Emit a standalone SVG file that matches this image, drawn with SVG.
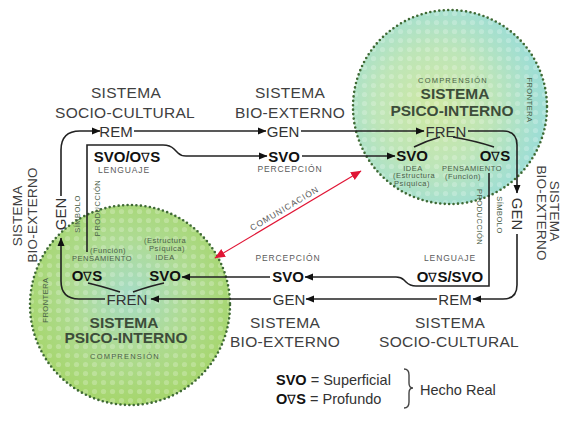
<svg xmlns="http://www.w3.org/2000/svg" width="566" height="421" viewBox="0 0 566 421">
<style>
.t{font-family:"Liberation Sans",Arial,sans-serif;text-anchor:middle;fill:#404040}
.big{font-size:15.5px;letter-spacing:0.3px}
.side{font-size:13.5px;letter-spacing:0.2px}
.nd{font-size:15px;fill:#333}
.b{font-size:15px;font-weight:bold;fill:#111}
.s{font-size:8.5px;letter-spacing:0.9px;fill:#5a5a5a}
.cs{font-size:7.5px;letter-spacing:0.5px;fill:#4a6048}
.ct{font-size:15.5px;font-weight:bold;fill:#3d4d3a}
.ln{fill:none;stroke:#222;stroke-width:1.6}
.rim{fill:none;stroke:#3f6a35;stroke-width:2.6;stroke-dasharray:0 4.5;stroke-linecap:round}
.lg{font-family:"Liberation Sans",Arial,sans-serif;font-size:14.5px;fill:#333}
</style>
<defs>
<marker id="ah" markerUnits="userSpaceOnUse" markerWidth="9" markerHeight="8" refX="8" refY="4" orient="auto"><path d="M0,0.5 L8.5,4 L0,7.5 z" fill="#111"/></marker>
<marker id="rh" markerUnits="userSpaceOnUse" markerWidth="11" markerHeight="10" refX="10" refY="5" orient="auto-start-reverse"><path d="M0,0.5 L10.5,5 L0,9.5 z" fill="#e01535"/></marker>
<radialGradient id="gTop" cx="0.42" cy="0.5" r="0.55">
<stop offset="0" stop-color="#cfe8a2"/><stop offset="0.55" stop-color="#bde5b8"/><stop offset="1" stop-color="#9fded4"/>
</radialGradient>
<radialGradient id="gBot" cx="0.5" cy="0.45" r="0.55">
<stop offset="0" stop-color="#a6dcc6"/><stop offset="0.5" stop-color="#aedb94"/><stop offset="1" stop-color="#a6d66c"/>
</radialGradient>
<pattern id="dots" width="9" height="9" patternUnits="userSpaceOnUse"><circle cx="4.5" cy="4.5" r="2.6" fill="#fff" opacity="0.22"/></pattern>
</defs>
<rect width="566" height="421" fill="#fff"/>

<g id="psico-interno-top">
<circle cx="450" cy="107" r="97" fill="url(#gTop)"/>
<circle cx="450" cy="107" r="97" fill="url(#dots)"/>
<circle cx="450" cy="107" r="97" class="rim"/>
<text class="t cs" x="453" y="83" style="letter-spacing:1.2px">COMPRENSIÓN</text>
<text class="t ct" x="455" y="98.5">SISTEMA</text>
<text class="t ct" x="452" y="115.5">PSICO-INTERNO</text>
<text class="t cs" transform="translate(530,100) rotate(90)" y="2.7">FRONTERA</text>
<text class="t cs" x="413" y="170.5">IDEA</text>
<text class="t cs" x="414" y="178">(Estructura</text>
<text class="t cs" x="412" y="186">Psíquica)</text>
<text class="t cs" x="472" y="170.5">PENSAMIENTO</text>
<text class="t cs" x="463" y="178.5">(Función)</text>
</g>

<g id="psico-interno-bottom">
<circle cx="130" cy="305" r="100" fill="url(#gBot)"/>
<circle cx="130" cy="305" r="100" fill="url(#dots)"/>
<circle cx="130" cy="305" r="100" class="rim"/>
<text class="t ct" x="124" y="327.5">SISTEMA</text>
<text class="t ct" x="126" y="343">PSICO-INTERNO</text>
<text class="t cs" x="125" y="358.5" style="letter-spacing:1.2px">COMPRENSIÓN</text>
<text class="t cs" transform="translate(45,300) rotate(-90)" y="2.7">FRONTERA</text>
<text class="t cs" x="165" y="242.5">(Estructura</text>
<text class="t cs" x="167" y="250.5">Psíquica)</text>
<text class="t cs" x="165" y="259.5">IDEA</text>
<text class="t cs" x="108" y="252.5">(Función)</text>
<text class="t cs" x="102" y="260.5">PENSAMIENTO</text>
</g>

<g id="connectors">
<path class="ln" d="M61,196 L61,150 Q61,131 80,131 L100,131" marker-end="url(#ah)"/>
<path class="ln" d="M134,131 L266,131" marker-end="url(#ah)"/>
<path class="ln" d="M301,131 L424,131" marker-end="url(#ah)"/>
<path class="ln" d="M468,131 L503,131 Q517,131 517,145 L517,193" marker-end="url(#ah)"/>
<path class="ln" d="M517,234 L517,285 Q517,299 503,299 L473,299" marker-end="url(#ah)"/>
<path class="ln" d="M437,299 L306,299" marker-end="url(#ah)"/>
<path class="ln" d="M271,299 L151,299" marker-end="url(#ah)"/>
<path class="ln" d="M105,299 L79,299 Q61,299 61,281 L61,238" marker-end="url(#ah)"/>
<path class="ln" d="M87,252 L87,145 L163,145 Q170,145 174,149 L178,153 Q181,156 186,156 L267,156" marker-end="url(#ah)"/>
<path class="ln" d="M302,156 L395,156" marker-end="url(#ah)"/>
<path class="ln" d="M489,173 L489,286 L416,286 Q410,286 406,282 L404,280 Q401,277 396,277 L305,277" marker-end="url(#ah)"/>
<path class="ln" d="M270,277 L182,277" marker-end="url(#ah)"/>
<path class="ln" d="M440,137 Q426,141 414,147"/>
<path class="ln" d="M453,137 Q476,141 494,147"/>
<path class="ln" d="M120,292 Q101,286 88,283"/>
<path class="ln" d="M133,292 Q150,286 164,283"/>
<path d="M215,258 L361,171" fill="none" stroke="#e01535" stroke-width="1.1" marker-start="url(#rh)" marker-end="url(#rh)"/>
<text class="t s" transform="translate(286,211) rotate(-30.8)">COMUNICACIÓN</text>
</g>

<g id="rem-top">
<text class="t big" x="126" y="98">SISTEMA</text>
<text class="t big" x="125" y="118">SOCIO-CULTURAL</text>
<text class="t nd" x="116" y="136.5">REM</text>
</g>
<g id="gen-top">
<text class="t big" x="290" y="98">SISTEMA</text>
<text class="t big" x="290" y="118">BIO-EXTERNO</text>
<text class="t nd" x="283" y="136.5">GEN</text>
</g>
<g id="fren-top">
<text class="t nd" x="446" y="136.5">FREN</text>
</g>
<g id="lenguaje-top">
<text class="t b" x="127" y="161.5">SVO/O<tspan font-size="13" font-weight="normal">∇</tspan>S</text>
<text class="t s" x="124" y="173">LENGUAJE</text>
</g>
<g id="percepcion-top">
<text class="t b" x="284" y="161.5">SVO</text>
<text class="t s" x="290" y="172">PERCEPCIÓN</text>
</g>
<g id="svo-top">
<text class="t b" x="412" y="160.5">SVO</text>
</g>
<g id="ovs-top">
<text class="t b" x="495" y="160.5">O<tspan font-size="13" font-weight="normal">∇</tspan>S</text>
</g>
<g id="gen-right">
<text class="t nd" transform="translate(517,214) rotate(90)" y="5.4">GEN</text>
<text class="t cs" transform="translate(500,215) rotate(90)" y="2.7">SÍMBOLO</text>
<text class="t cs" transform="translate(480,217) rotate(90)" y="2.7">PRODUCCIÓN</text>
<text class="t side" transform="translate(555,211) rotate(90)" y="4.8">SISTEMA</text>
<text class="t side" transform="translate(542,213) rotate(90)" y="4.8">BIO-EXTERNO</text>
</g>
<g id="lenguaje-bottom">
<text class="t s" x="450" y="261">LENGUAJE</text>
<text class="t b" x="450" y="281.5">O<tspan font-size="13" font-weight="normal">∇</tspan>S/SVO</text>
</g>
<g id="percepcion-bottom">
<text class="t s" x="288" y="261">PERCEPCIÓN</text>
<text class="t b" x="288" y="281.5">SVO</text>
</g>
<g id="rem-bottom">
<text class="t nd" x="455" y="304.5">REM</text>
<text class="t big" x="450" y="328">SISTEMA</text>
<text class="t big" x="449" y="347">SOCIO-CULTURAL</text>
</g>
<g id="gen-bottom">
<text class="t nd" x="289" y="304.5">GEN</text>
<text class="t big" x="285" y="328">SISTEMA</text>
<text class="t big" x="285" y="347">BIO-EXTERNO</text>
</g>
<g id="fren-bottom">
<text class="t nd" x="127" y="304.5">FREN</text>
</g>
<g id="svo-bottom">
<text class="t b" x="165" y="280.5">SVO</text>
</g>
<g id="ovs-bottom">
<text class="t b" x="87" y="280.5">O<tspan font-size="13" font-weight="normal">∇</tspan>S</text>
</g>
<g id="gen-left">
<text class="t nd" transform="translate(61,214) rotate(-90)" y="5.4">GEN</text>
<text class="t cs" transform="translate(77,214) rotate(-90)" y="2.7">SÍMBOLO</text>
<text class="t cs" transform="translate(97,208) rotate(-90)" y="2.7">PRODUCCIÓN</text>
<text class="t side" transform="translate(17,216) rotate(-90)" y="4.8">SISTEMA</text>
<text class="t side" transform="translate(32,215) rotate(-90)" y="4.8">BIO-EXTERNO</text>
</g>

<g id="legend">
<text class="lg" x="276" y="385"><tspan font-weight="bold" fill="#111">SVO</tspan> = Superficial</text>
<text class="lg" x="276" y="404"><tspan font-weight="bold" fill="#111">O<tspan font-size="12.5" font-weight="normal">∇</tspan>S</tspan> = Profundo</text>
<path d="M404,369 Q409,369 409,375 L409,383 Q409,388 413,388 Q409,388 409,393 L409,402 Q409,408 404,408" fill="none" stroke="#444" stroke-width="1.4"/>
<text class="lg" x="420" y="395">Hecho Real</text>
</g>
</svg>
